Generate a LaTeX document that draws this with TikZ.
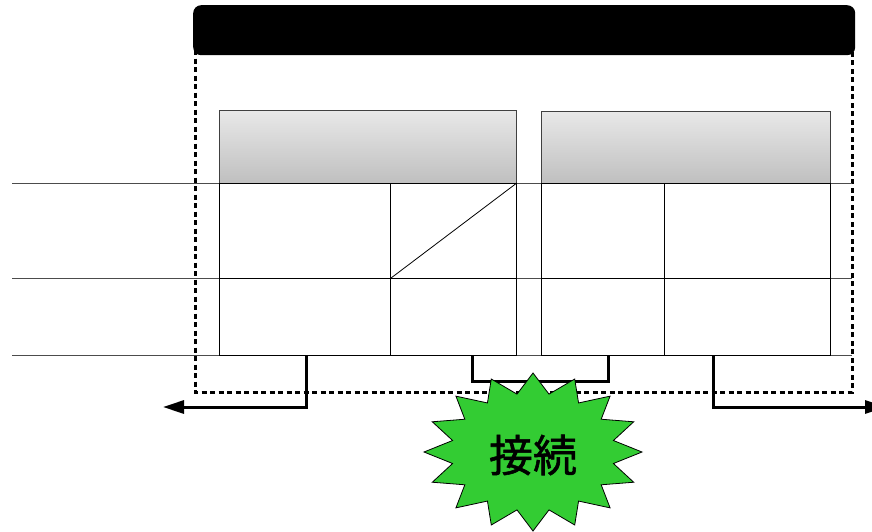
\documentclass[tikz,border=0pt]{standalone}
\usepackage{fontspec}
\newfontfamily\jpfont[FakeBold=1.2]{Noto Sans CJK JP}
\usetikzlibrary{positioning,arrows.meta}
\definecolor{burstgreen}{HTML}{33CC33}

\begin{document}
\begin{tikzpicture}[x=1pt,y=-1pt,
        headbox/.style={rectangle, draw=black!75, top color=black!9, bottom color=black!25, anchor=north west, inner sep=0pt, line width=0.8pt},
        cellbox/.style={rectangle, draw=black, anchor=north west, inner sep=0pt, line width=0.8pt},
        rowline/.style={draw=black!70, line width=0.8pt},
        frameline/.style={line width=3pt, dash pattern=on 5pt off 3.5pt},
        bracket/.style={line width=3pt},
        burst/.style={fill=burstgreen, draw=black, line width=0.8pt},
    ]
    \useasboundingbox (0,0) rectangle (872,531);
    \clip (0,0) rectangle (872,531);

    \draw[frameline] (195,50) rectangle (852,392);
    \node[fill=black, rounded corners=8pt, anchor=north west, minimum width=662pt, minimum height=50pt, inner sep=0pt] (titlebar) at (193,5) {};

    \node[headbox, minimum width=297pt, minimum height=73pt] (lefthead)  at (219,110) {};
    \node[headbox, minimum width=289pt, minimum height=72pt] (righthead) at (541,111) {};

    \foreach \y in {183,278,355}
        \draw[rowline] (12,\y) -- (852,\y);

    \foreach \x/\w/\n in {219/171/la, 390/126/lb, 541/123/ra, 664/166/rb} {
        \node[cellbox, minimum width=\w pt, minimum height=95pt] (\n1) at (\x,183) {};
        \node[cellbox, minimum width=\w pt, minimum height=77pt] (\n2) at (\x,278) {};
    }
    \draw[line width=0.8pt] (lb1.south west) -- (lb1.north east);

    % brackets under the tables
    \coordinate (tapL)   at (306,355);
    \coordinate (tapR)   at (713,355);
    \coordinate (jointL) at (472,355);
    \coordinate (jointR) at (608,355);
    \coordinate (outL)   at (163,407);
    \coordinate (outR)   at (886,407);
    \draw[bracket, -{Triangle[length=21pt,width=13pt]}] (tapL) |- (outL);
    \draw[bracket, -{Triangle[length=21pt,width=13pt]}] (tapR) |- (outR);
    \draw[bracket] (jointL) -- ++(0,26) -| (jointR);

    \filldraw[burst, shift={(533,452)}] (90:109 and 79)
        \foreach \k in {0,...,15} { -- (90+\k*22.5+11.25:82 and 59) -- (90+\k*22.5+22.5:109 and 79) } -- cycle;
    \node[font=\jpfont\fontsize{44}{44}\selectfont] (burstlabel) at (533,455) {接続};
\end{tikzpicture}
\end{document}
